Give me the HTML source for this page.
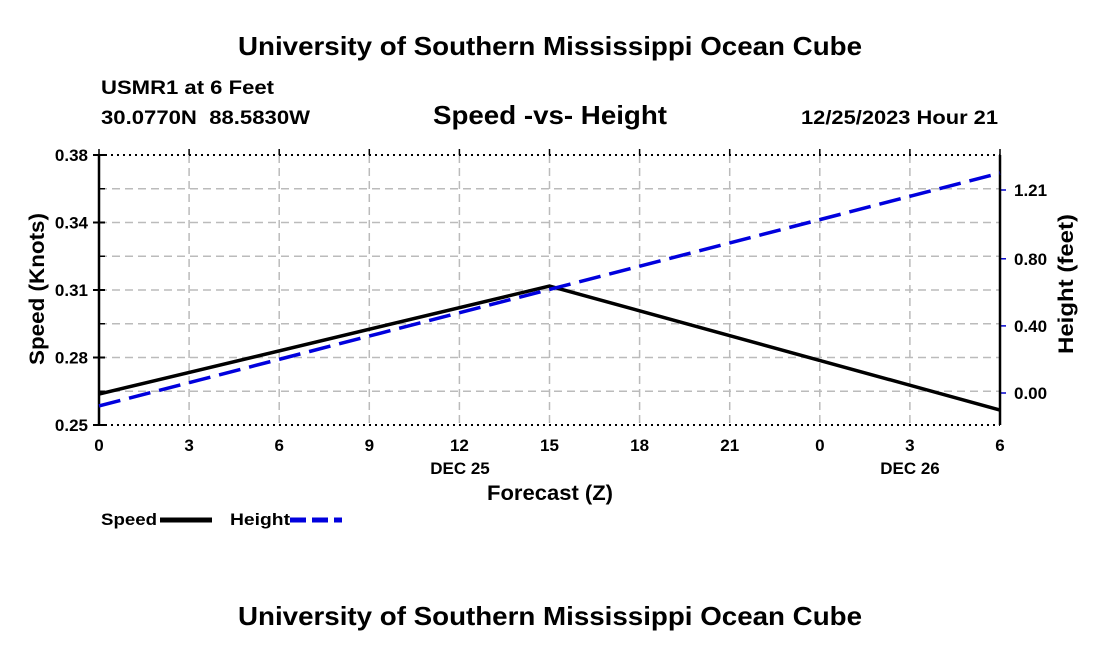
<!DOCTYPE html>
<html><head><meta charset="utf-8"><style>
body{margin:0;background:#fff;width:1100px;height:650px;overflow:hidden;font-family:"Liberation Sans",sans-serif}
svg text{font-family:"Liberation Sans",sans-serif;font-weight:bold;fill:#000}
</style></head><body>
<svg id="c" width="1100" height="650">
<text x="238" y="55" font-size="26" textLength="624" lengthAdjust="spacingAndGlyphs">University of Southern Mississippi Ocean Cube</text>
<text x="101" y="94" font-size="19" textLength="173" lengthAdjust="spacingAndGlyphs">USMR1 at 6 Feet</text>
<text x="101" y="124" font-size="19" textLength="209" lengthAdjust="spacingAndGlyphs">30.0770N&#160;&#160;88.5830W</text>
<text x="433" y="124" font-size="26" textLength="234" lengthAdjust="spacingAndGlyphs">Speed -vs- Height</text>
<text x="801" y="124" font-size="19" textLength="197" lengthAdjust="spacingAndGlyphs">12/25/2023 Hour 21</text>
<g id="grid"></g>
<g id="axes"></g>
<g id="series"></g>
<text transform="translate(44,365) rotate(-90)" font-size="21" textLength="152" lengthAdjust="spacingAndGlyphs">Speed (Knots)</text>
<text transform="translate(1073,354) rotate(-90)" font-size="21" textLength="140" lengthAdjust="spacingAndGlyphs">Height (feet)</text>
<text x="487" y="500" font-size="21" textLength="126" lengthAdjust="spacingAndGlyphs">Forecast (Z)</text>
<text x="460" y="474" font-size="17" text-anchor="middle">DEC 25</text>
<text x="910" y="474" font-size="17" text-anchor="middle">DEC 26</text>
<g><text x="101" y="525" font-size="17" textLength="56" lengthAdjust="spacingAndGlyphs">Speed</text><line x1="160" y1="520" x2="212" y2="520" stroke="#000" stroke-width="5"/></g>
<g><text x="230" y="525" font-size="17" textLength="60" lengthAdjust="spacingAndGlyphs">Height</text><line x1="290" y1="520" x2="342" y2="520" stroke="#0000dd" stroke-width="5" stroke-dasharray="16,6"/></g>
<text x="238" y="625" font-size="26" textLength="624" lengthAdjust="spacingAndGlyphs">University of Southern Mississippi Ocean Cube</text>
</svg>
<script>
const hours=[0,15,30];
const xTickLabels=["0","3","6","9","12","15","18","21","0","3","6"];
const speedValues=[0.2649,0.3169,0.2572];
const heightValues=[-0.077,0.617,1.311];
const leftTickLabels=["0.25","0.28","0.31","0.34","0.38"];
const rightTicks=[0,0.40,0.80,1.21];
const L=99,R=1000,T=155,B=425;
const xs=h=>L+(R-L)*h/30;
const ys=v=>B-(B-T)*(v-0.25)/0.13;
const yh=v=>393-v*(203/1.21);
const NS="http://www.w3.org/2000/svg";
function mk(tag,parent,attrs){const e=document.createElementNS(NS,tag);for(const k in attrs)e.setAttribute(k,attrs[k]);document.getElementById(parent).appendChild(e);return e;}
for(let i=1;i<8;i++){const y=T+(B-T)*i/8;
 const g=mk('line','grid',{x1:L,x2:R,y1:y,y2:y,stroke:'#bbb','stroke-width':1.5,'stroke-dasharray':'8,5'});
 
 
 const t=mk('line','axes',{x1:L,x2:L+6,y1:y,y2:y,stroke:'#000','stroke-width':1.5});
 
 }
xTickLabels.forEach((lab,i)=>{const x=xs(i*3);
 if(i>0&&i<10){const g=mk('line','grid',{x1:x,x2:x,y1:T,y2:B,stroke:'#bbb','stroke-width':1.5,'stroke-dasharray':'8,5'});
 
 }
 const tk=mk('line','axes',{x1:x,x2:x,y1:T-6,y2:T,stroke:'#000','stroke-width':1.5});
 
 
 const t=mk('text','axes',{x:x,y:B+26,'font-size':17,'text-anchor':'middle'});t.textContent=lab;
 
 });
leftTickLabels.forEach((lab,i)=>{const y=T+(B-T)*(4-i)/4;
 const tk=mk('line','axes',{x1:L-6,x2:L+6,y1:y,y2:y,stroke:'#000','stroke-width':2});
 
 
 const t=mk('text','axes',{x:L-11,y:y+6,'font-size':17,'text-anchor':'end'});t.textContent=lab;
 
 });
rightTicks.forEach(v=>{const y=yh(v);
 const tk=mk('line','axes',{x1:R,x2:R+6,y1:y,y2:y,stroke:'#0000cc','stroke-width':1.5});
 
 
 const t=mk('text','axes',{x:R+14,y:y+6,'font-size':17});t.textContent=v.toFixed(2);
 
 });
[T,B].forEach(y=>{const b=mk('line','axes',{x1:L,x2:R,y1:y,y2:y,stroke:'#000','stroke-width':2,'stroke-dasharray':'2,4'});
 
 });
[L,R].forEach(x=>{const a=mk('line','axes',{x1:x,x2:x,y1:T,y2:B,stroke:'#000','stroke-width':2.5});
 
 });
const sp=mk('polyline','series',{points:hours.map((h,i)=>xs(h)+','+ys(speedValues[i])).join(' '),fill:'none',stroke:'#000','stroke-width':3.5});


const hl=mk('polyline','series',{points:hours.map((h,i)=>xs(h)+','+yh(heightValues[i])).join(' '),fill:'none',stroke:'#0000dd','stroke-width':3.5,'stroke-dasharray':'22,9'});


</script>
</body></html>
